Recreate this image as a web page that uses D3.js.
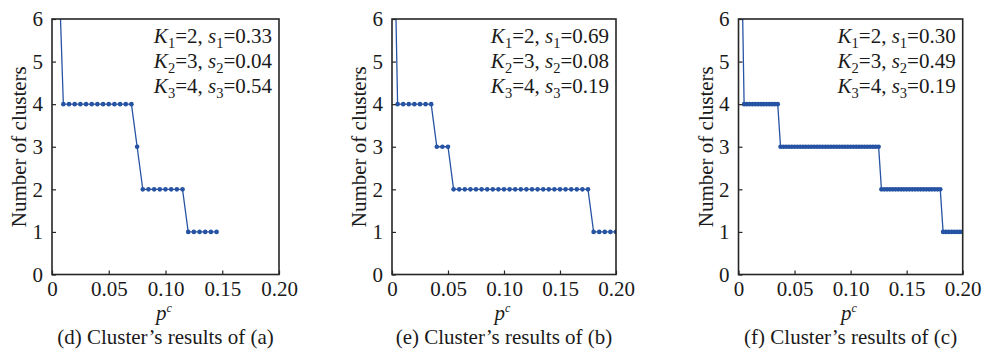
<!DOCTYPE html>
<html>
<head>
<meta charset="utf-8">
<script src="https://cdn.jsdelivr.net/npm/d3@7"></script>
<style>
  html, body { margin: 0; padding: 0; background: #fff; }
  svg { display: block; }
</style>
</head>
<body>
<script>
// ---------- data ----------
const xTicks = [0, 0.05, 0.10, 0.15, 0.20];
const xTickLabels = ["0", "0.05", "0.10", "0.15", "0.20"];
const yTicks = [0, 1, 2, 3, 4, 5, 6];

// panel (d)
const pD = [0.005, 0.010, 0.015, 0.020, 0.025, 0.030, 0.035, 0.040, 0.045, 0.050,
            0.055, 0.060, 0.065, 0.070, 0.075, 0.080, 0.085, 0.090, 0.095, 0.100,
            0.105, 0.110, 0.115, 0.120, 0.125, 0.130, 0.135, 0.140, 0.145];
const kD = [8, 4, 4, 4, 4, 4, 4, 4, 4, 4,
            4, 4, 4, 4, 3, 2, 2, 2, 2, 2,
            2, 2, 2, 1, 1, 1, 1, 1, 1];

// panel (e)
const pE = [0, 0.005, 0.010, 0.015, 0.020, 0.025, 0.030, 0.035, 0.040, 0.045,
            0.050, 0.055, 0.060, 0.065, 0.070, 0.075, 0.080, 0.085, 0.090, 0.095,
            0.100, 0.105, 0.110, 0.115, 0.120, 0.125, 0.130, 0.135, 0.140, 0.145,
            0.150, 0.155, 0.160, 0.165, 0.170, 0.175, 0.180, 0.185, 0.190, 0.195, 0.200];
const kE = [11, 4, 4, 4, 4, 4, 4, 4, 3, 3,
            3, 2, 2, 2, 2, 2, 2, 2, 2, 2,
            2, 2, 2, 2, 2, 2, 2, 2, 2, 2,
            2, 2, 2, 2, 2, 2, 1, 1, 1, 1, 1];

// panel (f)
const pF = [0.0025, 0.0050, 0.0075, 0.0100, 0.0125, 0.0150, 0.0175, 0.0200, 0.0225, 0.0250,
            0.0275, 0.0300, 0.0325, 0.0350, 0.0375, 0.0400, 0.0425, 0.0450, 0.0475, 0.0500,
            0.0525, 0.0550, 0.0575, 0.0600, 0.0625, 0.0650, 0.0675, 0.0700, 0.0725, 0.0750,
            0.0775, 0.0800, 0.0825, 0.0850, 0.0875, 0.0900, 0.0925, 0.0950, 0.0975, 0.1000,
            0.1025, 0.1050, 0.1075, 0.1100, 0.1125, 0.1150, 0.1175, 0.1200, 0.1225, 0.1250,
            0.1275, 0.1300, 0.1325, 0.1350, 0.1375, 0.1400, 0.1425, 0.1450, 0.1475, 0.1500,
            0.1525, 0.1550, 0.1575, 0.1600, 0.1625, 0.1650, 0.1675, 0.1700, 0.1725, 0.1750,
            0.1775, 0.1800, 0.1825, 0.1850, 0.1875, 0.1900, 0.1925, 0.1950, 0.1975, 0.2000];
const kF = [8, 4, 4, 4, 4, 4, 4, 4, 4, 4,
            4, 4, 4, 4, 3, 3, 3, 3, 3, 3,
            3, 3, 3, 3, 3, 3, 3, 3, 3, 3,
            3, 3, 3, 3, 3, 3, 3, 3, 3, 3,
            3, 3, 3, 3, 3, 3, 3, 3, 3, 3,
            2, 2, 2, 2, 2, 2, 2, 2, 2, 2,
            2, 2, 2, 2, 2, 2, 2, 2, 2, 2,
            2, 2, 1, 1, 1, 1, 1, 1, 1, 1];

const clusterK = [2, 3, 4];
const sD = ["0.33", "0.04", "0.54"];
const sE = ["0.69", "0.08", "0.19"];
const sF = ["0.30", "0.49", "0.19"];

const captions = ["(d) Cluster\u2019s results of (a)",
                  "(e) Cluster\u2019s results of (b)",
                  "(f) Cluster\u2019s results of (c)"];
const yTitle = "Number of clusters";

// ---------- layout ----------
const W = 985, H = 357;
const FONT = "'Liberation Serif', 'Times New Roman', serif";
const FS = 21;
const LINE = "#2653a3";
const AX = "#262626";
const plotTop = 19, plotBottom = 274.5;
const panelBoxes = [
  { left: 52, right: 279 },
  { left: 392, right: 616 },
  { left: 738.5, right: 962.7 }
];
const series = [
  { p: pD, k: kD, s: sD },
  { p: pE, k: kE, s: sE },
  { p: pF, k: kF, s: sF }
];

const svg = d3.select("body").append("svg")
  .attr("width", W).attr("height", H)
  .attr("font-family", FONT);
svg.append("rect").attr("width", W).attr("height", H).attr("fill", "#fff");

const y = d3.scaleLinear().domain([0, 6]).range([plotBottom, plotTop]);

panelBoxes.forEach((b, i) => {
  const x = d3.scaleLinear().domain([0, 0.2]).range([b.left, b.right]);
  const g = svg.append("g");
  const d = series[i];
  const pts = d.p.map((v, j) => [v, d.k[j]]);

  const clipId = "clip" + i;
  svg.append("clipPath").attr("id", clipId)
    .append("rect").attr("x", b.left).attr("y", plotTop)
    .attr("width", b.right - b.left).attr("height", plotBottom - plotTop);

  const plot = g.append("g").attr("clip-path", `url(#${clipId})`);
  plot.append("path")
    .datum(pts)
    .attr("fill", "none")
    .attr("stroke", LINE)
    .attr("stroke-width", 1.3)
    .attr("d", d3.line().x(v => x(v[0])).y(v => y(v[1])));
  plot.selectAll("circle").data(pts.filter(v => v[1] <= 6)).join("circle")
    .attr("cx", v => x(v[0])).attr("cy", v => y(v[1]))
    .attr("r", 2.3).attr("fill", LINE);

  // axes
  const xa = g.append("g").attr("transform", `translate(0,${plotBottom})`)
    .call(d3.axisBottom(x).tickValues(xTicks).tickFormat((v, j) => xTickLabels[j])
      .tickSize(-4).tickPadding(6.5));
  const ya = g.append("g").attr("transform", `translate(${b.left},0)`)
    .call(d3.axisLeft(y).tickValues(yTicks).tickFormat(d3.format("d"))
      .tickSize(-4).tickPadding(9));
  [xa, ya].forEach(a => {
    a.attr("font-family", FONT).attr("font-size", FS);
    a.select(".domain").remove();
    a.selectAll("line").attr("stroke", AX).attr("stroke-width", 1.2);
    a.selectAll("text").attr("fill", "#1a1a1a");
  });

  // frame
  g.append("rect")
    .attr("x", b.left).attr("y", plotTop)
    .attr("width", b.right - b.left).attr("height", plotBottom - plotTop)
    .attr("fill", "none").attr("stroke", AX).attr("stroke-width", 1.6);

  // annotations
  const ann = g.append("g").attr("font-size", FS).attr("fill", "#1a1a1a");
  clusterK.forEach((kv, j) => {
    const t = ann.append("text")
      .attr("x", b.right - 7).attr("y", 42.5 + j * 25)
      .attr("text-anchor", "end");
    t.append("tspan").attr("font-style", "italic").text("K");
    t.append("tspan").attr("font-size", 14.5).attr("dy", 5).text(j + 1);
    t.append("tspan").attr("dy", -5).text("=" + kv + ", ");
    t.append("tspan").attr("font-style", "italic").text("s");
    t.append("tspan").attr("font-size", 14.5).attr("dy", 5).text(j + 1);
    t.append("tspan").attr("dy", -5).text("=" + d.s[j]);
  });

  // y title
  const cy = (plotTop + plotBottom) / 2;
  g.append("text")
    .attr("transform", `translate(${b.left - 26},${cy}) rotate(-90)`)
    .attr("text-anchor", "middle")
    .attr("font-size", FS).attr("fill", "#1a1a1a")
    .text(yTitle);

  // x title: p with superscript c
  const cx = (b.left + b.right) / 2;
  g.append("text")
    .attr("x", cx + 1).attr("y", 319.5)
    .attr("text-anchor", "end")
    .attr("font-size", FS).attr("font-style", "italic").attr("fill", "#1a1a1a")
    .text("p");
  g.append("text")
    .attr("x", cx + 1).attr("y", 312)
    .attr("text-anchor", "start")
    .attr("font-size", 12).attr("font-style", "italic").attr("fill", "#1a1a1a")
    .text("c");

  // caption
  g.append("text")
    .attr("x", cx).attr("y", 343.5)
    .attr("text-anchor", "middle")
    .attr("font-size", FS).attr("fill", "#1a1a1a")
    .text(captions[i]);
});
</script>
</body>
</html>
